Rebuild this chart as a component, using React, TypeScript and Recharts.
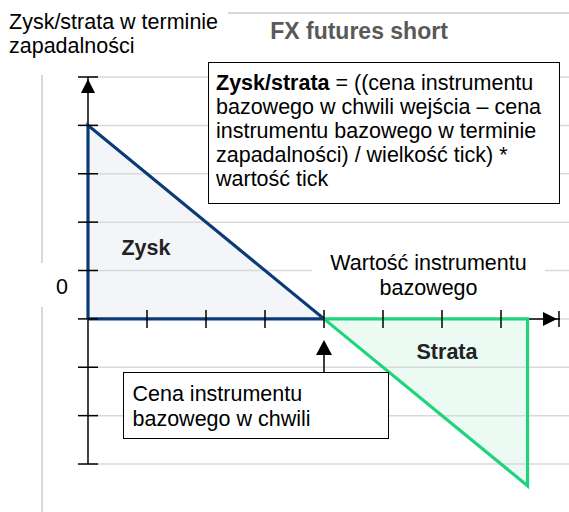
import React from 'react';
import { ComposedChart, XAxis, YAxis, Area, Scatter, ReferenceLine } from 'recharts';

// ---- data ----
const priceGrid = [0, 4, 7.45];          // underlying price (in ticks)
const zyskValues = [4, 0, null];          // profit region
const strataValues = [null, 0, -3.45];    // loss region
const yGridTicks = [-3, -2, -1, 0, 1, 2, 3, 4, 5];
const xAxisTicks = [1, 2, 3, 4, 5, 6, 7];
const xAxisEnd = 8;
const yAxisMin = -3;
const yAxisMax = 5;
const entryPrice = 4;

const chartTitle = 'FX futures short';
const yAxisTitle = ['Zysk/strata w terminie', 'zapadalności'];
const xAxisTitle = ['Wartość instrumentu', 'bazowego'];
const formulaBold = 'Zysk/strata';
const formulaLines = [
  ' = ((cena instrumentu',
  'bazowego w chwili wejścia – cena',
  'instrumentu bazowego w terminie',
  'zapadalności) / wielkość tick) *',
  'wartość tick',
];
const entryLabel = ['Cena instrumentu', 'bazowego w chwili'];
const zyskLabel = 'Zysk';
const strataLabel = 'Strata';
const zeroLabel = '0';

// ---- view window (data units) ----
const X_DOMAIN: [number, number] = [-1.4915, 8.1525];
const Y_DOMAIN: [number, number] = [-3.992, 5];
const GRID_X_END = 8.1525;

// ---- derived tables ----
const areaData = priceGrid.map((x, i) => ({ x, zysk: zyskValues[i], strata: strataValues[i] }));
const zyskOutline = [
  { x: priceGrid[0], y: 0 },
  { x: priceGrid[0], y: zyskValues[0] as number },
  { x: priceGrid[1], y: zyskValues[1] as number },
  { x: priceGrid[0], y: 0 },
];
const strataOutline = [
  { x: priceGrid[1], y: strataValues[1] as number },
  { x: priceGrid[2], y: 0 },
  { x: priceGrid[2], y: strataValues[2] as number },
  { x: priceGrid[1], y: strataValues[1] as number },
];
const yTickPoints = yGridTicks.map((v) => ({ x: 0, y: v }));
const xTickPoints = xAxisTicks.map((v) => ({ x: v, y: 0 }));
const xEndPoints = [{ x: xAxisEnd, y: 0 }];
const yEndPoints = [{ x: 0, y: yAxisMax }];
const entryPoints = [{ x: entryPrice, y: 0 }];

// ---- styles ----
const NAVY = '#0c3a76';
const GREEN = '#1fd47c';
const GRID = '#d9d9d9';
const FONT = '"Liberation Sans", Arial, sans-serif';
const FS = 21.5;
const W = 569;
const H = 512;

const Empty = () => <g />;
const YTick = (p: any) => (
  <line x1={p.cx - 10} x2={p.cx + 10} y1={p.cy} y2={p.cy} stroke="#000" strokeWidth={1.5} />
);
const XTick = (p: any) => (
  <line x1={p.cx} x2={p.cx} y1={p.cy - 9} y2={p.cy + 9} stroke="#000" strokeWidth={1.5} />
);
const XEnd = (p: any) => (
  <g>
    <line x1={p.cx - 1} x2={p.cx - 1} y1={p.cy - 8} y2={p.cy + 8} stroke="#000" strokeWidth={1.5} />
    <polygon points={`${p.cx - 3},${p.cy} ${p.cx - 17},${p.cy - 7} ${p.cx - 17},${p.cy + 7}`} fill="#000" />
  </g>
);
const YEnd = (p: any) => (
  <polygon points={`${p.cx},${p.cy + 2} ${p.cx - 7},${p.cy + 16} ${p.cx + 7},${p.cy + 16}`} fill="#000" />
);
const EntryArrow = (p: any) => (
  <g>
    <polygon points={`${p.cx},${p.cy + 21} ${p.cx - 8},${p.cy + 36} ${p.cx + 8},${p.cy + 36}`} fill="#000" />
    <line x1={p.cx} x2={p.cx} y1={p.cy + 35} y2={p.cy + 53} stroke="#000" strokeWidth={1.5} />
  </g>
);

const abs = (s: React.CSSProperties): React.CSSProperties => ({ position: 'absolute', ...s });

export default function App() {
  return (
    <div style={{ position: 'absolute', left: 0, top: 0, width: W, height: H, background: '#fff', fontFamily: FONT, overflow: 'hidden' }}>
      {/* chart-area frame lines */}
      <div style={abs({ left: 228, top: 12, width: W - 228, height: 2, background: GRID })} />
      <div style={abs({ left: 41, top: 75, width: 2, height: 188, background: GRID })} />
      <div style={abs({ left: 41, top: 307, width: 2, height: H - 307, background: GRID })} />

      <div style={abs({ left: 0, top: 0 })}>
        <ComposedChart width={W} height={H} data={areaData} margin={{ top: 77, right: 0, bottom: 0, left: 0 }}>
          <XAxis dataKey="x" type="number" domain={X_DOMAIN} hide />
          <YAxis dataKey="y" type="number" domain={Y_DOMAIN} hide />
          {yGridTicks.map((v) => (
            <ReferenceLine key={`g${v}`} segment={[{ x: 0, y: v }, { x: GRID_X_END, y: v }]} stroke={GRID} strokeWidth={1.5} />
          ))}
          <ReferenceLine segment={[{ x: 0, y: yAxisMin }, { x: 0, y: yAxisMax }]} stroke="#000" strokeWidth={1.5} />
          <ReferenceLine segment={[{ x: 0, y: 0 }, { x: xAxisEnd, y: 0 }]} stroke="#000" strokeWidth={1.5} />
          <Area dataKey="zysk" type="linear" baseValue={0} stroke="none" fill={NAVY} fillOpacity={0.05} isAnimationActive={false} connectNulls={false} />
          <Area dataKey="strata" type="linear" baseValue={0} stroke="none" fill={GREEN} fillOpacity={0.09} isAnimationActive={false} connectNulls={false} />
          <Scatter data={zyskOutline} line={{ stroke: NAVY, strokeWidth: 3.2 }} lineType="joint" shape={Empty} isAnimationActive={false} />
          <Scatter data={strataOutline} line={{ stroke: GREEN, strokeWidth: 3.2 }} lineType="joint" shape={Empty} isAnimationActive={false} />
          <Scatter data={yTickPoints} shape={YTick} isAnimationActive={false} />
          <Scatter data={xTickPoints} shape={XTick} isAnimationActive={false} />
          <Scatter data={xEndPoints} shape={XEnd} isAnimationActive={false} />
          <Scatter data={yEndPoints} shape={YEnd} isAnimationActive={false} />
          <Scatter data={entryPoints} shape={EntryArrow} isAnimationActive={false} />
        </ComposedChart>
      </div>

      {/* texts */}
      <div style={abs({ left: 9, top: 10, fontSize: FS, lineHeight: '24px', color: '#000', whiteSpace: 'nowrap' })}>
        {yAxisTitle[0]}<br />{yAxisTitle[1]}
      </div>
      <div style={abs({ left: 209, width: 300, top: 18, fontSize: 23, lineHeight: '26px', fontWeight: 'bold', color: '#595959', textAlign: 'center', whiteSpace: 'nowrap' })}>
        {chartTitle}
      </div>
      <div style={abs({ left: 208, top: 62, width: 352, height: 142, boxSizing: 'border-box', border: '1.5px solid #000', background: '#fff', padding: '8px 0 0 7px', fontSize: FS, lineHeight: '24px', color: '#000', whiteSpace: 'nowrap' })}>
        <b>{formulaBold}</b>{formulaLines[0]}<br />
        {formulaLines.slice(1).map((l, i) => (<React.Fragment key={i}>{l}<br /></React.Fragment>))}
      </div>
      <div style={abs({ left: 312, width: 233, top: 251, fontSize: FS, lineHeight: '24.5px', color: '#000', textAlign: 'center', background: '#fff', whiteSpace: 'nowrap' })}>
        {xAxisTitle[0]}<br />{xAxisTitle[1]}
      </div>
      <div style={abs({ left: 123, top: 372, width: 266, height: 67, boxSizing: 'border-box', border: '1.5px solid #000', background: '#fff', padding: '9px 0 0 8.5px', color: '#000' })}>
        <div style={{ fontSize: FS, lineHeight: '25px', whiteSpace: 'nowrap' }}>
          {entryLabel[0]}<br />{entryLabel[1]}
        </div>
      </div>
      <div style={abs({ left: 96, width: 100, top: 235, fontSize: FS, lineHeight: '26px', fontWeight: 'bold', color: '#222', textAlign: 'center' })}>{zyskLabel}</div>
      <div style={abs({ left: 397, width: 100, top: 339, fontSize: FS, lineHeight: '26px', fontWeight: 'bold', color: '#222', textAlign: 'center' })}>{strataLabel}</div>
      <div style={abs({ left: 42, width: 40, top: 274, fontSize: FS, lineHeight: '26px', color: '#000', textAlign: 'center' })}>{zeroLabel}</div>
    </div>
  );
}
